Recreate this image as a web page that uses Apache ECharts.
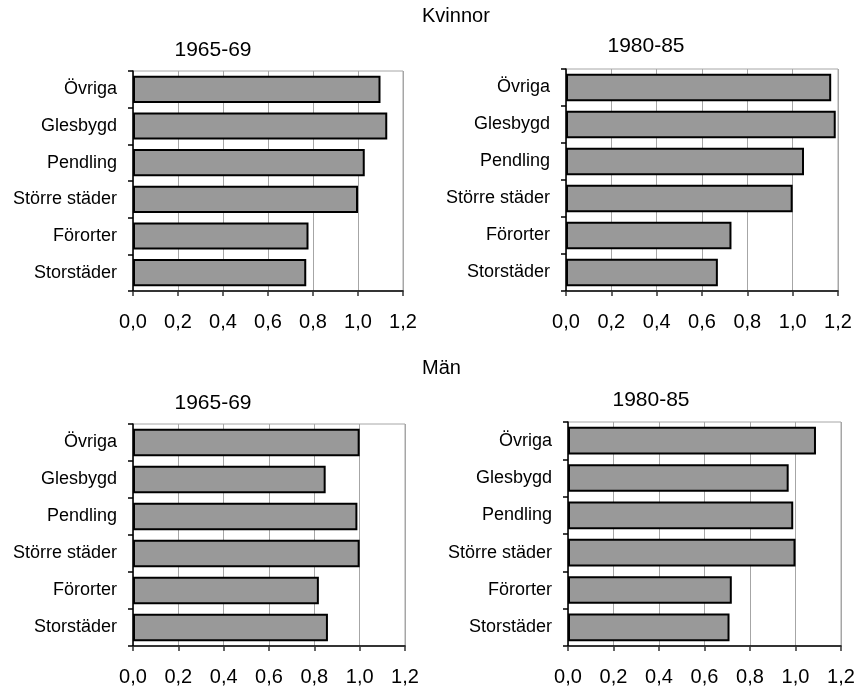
<!DOCTYPE html>
<html>
<head>
<meta charset="utf-8">
<script src="https://cdn.jsdelivr.net/npm/echarts@6/dist/echarts.min.js"></script>
<style>
html,body{margin:0;padding:0;background:#fff;}
#c{width:867px;height:691px;}
</style>
</head>
<body>
<div id="c"></div>
<script>
var categories = ['Övriga', 'Glesbygd', 'Pendling', 'Större städer', 'Förorter', 'Storstäder'];
var kvinnor1965 = [1.10, 1.13, 1.03, 1.00, 0.78, 0.77];
var kvinnor1980 = [1.17, 1.19, 1.05, 1.00, 0.73, 0.67];
var man1965 = [1.00, 0.85, 0.99, 1.00, 0.82, 0.86];
var man1980 = [1.09, 0.97, 0.99, 1.00, 0.72, 0.71];
var periodLabels = ['1965-69', '1980-85'];
var groupTitles = ['Kvinnor', 'Män'];

var FONT = '"Liberation Sans", Arial, sans-serif';
var grids = [
  {left: 133, top: 71, width: 270, height: 220},
  {left: 566, top: 69, width: 272, height: 222},
  {left: 133, top: 424, width: 272, height: 222},
  {left: 568, top: 422, width: 273, height: 224}
];
var seriesData = [kvinnor1965, kvinnor1980, man1965, man1980];

var option = {
  animation: false,
  backgroundColor: '#fff',
  grid: grids.map(function (g) {
    return Object.assign({show: true, borderColor: '#a6a6a6', borderWidth: 1, backgroundColor: 'transparent'}, g);
  }),
  xAxis: grids.map(function (g, i) {
    return {
      type: 'value', gridIndex: i, min: 0, max: 1.2, interval: 0.2,
      axisLine: {show: true, onZero: false, lineStyle: {color: '#000', width: 1.5}},
      axisTick: {show: true, length: 5, lineStyle: {color: '#333', width: 1.5}},
      splitLine: {show: true, lineStyle: {color: '#a6a6a6', width: 1}},
      axisLabel: {
        color: '#000', fontFamily: FONT, fontSize: 20, margin: 21,
        formatter: function (v) { return v.toFixed(1).replace('.', ','); }
      }
    };
  }),
  yAxis: grids.map(function (g, i) {
    return {
      type: 'category', gridIndex: i, data: categories, inverse: true,
      axisLine: {show: true, lineStyle: {color: '#000', width: 1.5}},
      axisTick: {show: true, length: 5, alignWithLabel: false, lineStyle: {color: '#000', width: 1.5}},
      splitLine: {show: false},
      axisLabel: {color: '#000', fontFamily: FONT, fontSize: 18, margin: 16}
    };
  }),
  series: seriesData.map(function (d, i) {
    return {
      type: 'bar', xAxisIndex: i, yAxisIndex: i, data: d,
      barCategoryGap: '26%',
      itemStyle: {color: '#999999', borderColor: '#000', borderWidth: 2}
    };
  }),
  graphic: [
    {type: 'text', x: 422, y: 16, style: {text: groupTitles[0], fontFamily: FONT, fontSize: 20, fill: '#000', align: 'left', verticalAlign: 'middle'}},
    {type: 'text', x: 422, y: 368, style: {text: groupTitles[1], fontFamily: FONT, fontSize: 20, fill: '#000', align: 'left', verticalAlign: 'middle'}},
    {type: 'text', x: 213, y: 50, style: {text: periodLabels[0], fontFamily: FONT, fontSize: 21, fill: '#000', align: 'center', verticalAlign: 'middle'}},
    {type: 'text', x: 646, y: 46, style: {text: periodLabels[1], fontFamily: FONT, fontSize: 21, fill: '#000', align: 'center', verticalAlign: 'middle'}},
    {type: 'text', x: 213, y: 403, style: {text: periodLabels[0], fontFamily: FONT, fontSize: 21, fill: '#000', align: 'center', verticalAlign: 'middle'}},
    {type: 'text', x: 651, y: 400, style: {text: periodLabels[1], fontFamily: FONT, fontSize: 21, fill: '#000', align: 'center', verticalAlign: 'middle'}}
  ]
};
var chart = echarts.init(document.getElementById('c'), null, {renderer: 'canvas'});
chart.setOption(option);
</script>
</body>
</html>
